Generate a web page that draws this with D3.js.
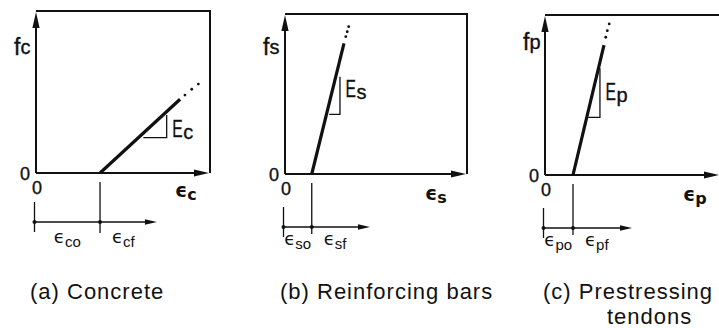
<!DOCTYPE html>
<html>
<head>
<meta charset="utf-8">
<script src="https://cdn.jsdelivr.net/npm/d3@7"></script>
<style>
  html, body { margin: 0; padding: 0; background: #fff; }
  svg { display: block; }
  text { font-family: "Liberation Sans", Arial, sans-serif; fill: #111; }
  .lab { stroke: #111; stroke-width: 0.35; }
  .eps { font-family: "DejaVu Sans", sans-serif; }
</style>
</head>
<body>
<svg id="chart" width="719" height="328"></svg>
<script>
// Idealised stress–strain relations (normalised units: strain and stress in [0, 1] of each frame)
const materials     = ["c", "s", "p"];
const titleLines    = [["(a) Concrete"], ["(b) Reinforcing bars"], ["(c) Prestressing", "tendons"]];
const offsetStrain  = [0.368, 0.147, 0.160];     // strain at zero stress (ε_o)
const endStrain     = [0.828, 0.324, 0.337];     // end of the solid branch
const endStress     = [0.455, 0.817, 0.812];
const dotStrain     = [[0.856, 0.895, 0.933], [0.334, 0.342, 0.350], [0.347, 0.356, 0.367]];
const dotStress     = [[0.481, 0.517, 0.549], [0.858, 0.889, 0.921], [0.861, 0.902, 0.944]];
const slopeStrain   = [[0.617, 0.751], [0.243, 0.302], [0.247, 0.314]];   // modulus triangle
const slopeStress   = [[0.218, 0.358], [0.373, 0.608], [0.360, 0.667]];
const dimEndStrain  = [0.695, 0.467, 0.497];     // extent of the strain dimension arrow

// Frame layout of each panel
const frames = [
  { left: 36,  right: 210, bottom: 173, top: 11, dimY: 222, fY: 55, axX: 175, axY: 197, eDy: 11, dimLabY: 243, titleX: 30 },
  { left: 285, right: 467, bottom: 174, top: 14, dimY: 227, fY: 55, axX: 425, axY: 200, eDy: 1,  dimLabY: 245, titleX: 280 },
  { left: 545, right: 720, bottom: 175, top: 15, dimY: 228, fY: 50, axX: 683, axY: 201, eDy: 7,  dimLabY: 246, titleX: 543 }
];

const svg = d3.select("#chart");
const ink = "#111";

function arrowHead(g, tip, dir, len, half) {
  // dir: unit vector pointing toward the tip
  const [tx, ty] = tip, [dx, dy] = dir;
  const bx = tx - dx * len, by = ty - dy * len;
  const px = -dy * half, py = dx * half;
  g.append("path")
    .attr("d", `M${tx},${ty}L${bx + px},${by + py}L${bx - px},${by - py}Z`)
    .attr("fill", ink);
}

materials.forEach((m, i) => {
  const f = frames[i];
  const x = d3.scaleLinear().domain([0, 1]).range([f.left, f.right]);
  const y = d3.scaleLinear().domain([0, 1]).range([f.bottom, f.top]);
  const g = svg.append("g");

  // frame: top and right edges
  g.append("path")
    .attr("d", `M${x(0)},${y(1)}H${x(1)}V${y(0)}`)
    .attr("fill", "none").attr("stroke", ink).attr("stroke-width", 2);

  // axes with arrows
  g.append("line").attr("x1", x(0)).attr("y1", y(0)).attr("x2", x(0)).attr("y2", y(1) + 6)
    .attr("stroke", ink).attr("stroke-width", 2);
  arrowHead(g, [x(0), y(1) + 1], [0, -1], 16, 3.6);
  g.append("line").attr("x1", x(0)).attr("y1", y(0)).attr("x2", x(1) - 6).attr("y2", y(0))
    .attr("stroke", ink).attr("stroke-width", 2);
  arrowHead(g, [x(1) - 1, y(0)], [1, 0], 15, 3.6);

  // stress–strain branch
  const line = d3.line().x(d => x(d[0])).y(d => y(d[1]));
  g.append("path")
    .attr("d", line([[offsetStrain[i], 0], [endStrain[i], endStress[i]]]))
    .attr("fill", "none").attr("stroke", ink).attr("stroke-width", 3.2);
  g.selectAll(null).data(d3.zip(dotStrain[i], dotStress[i])).join("circle")
    .attr("cx", d => x(d[0])).attr("cy", d => y(d[1])).attr("r", 1.4).attr("fill", ink);

  // modulus triangle and label
  const [s0, s1] = slopeStrain[i], [q0, q1] = slopeStress[i];
  g.append("path")
    .attr("d", `M${x(s0)},${y(q0)}H${x(s1)}V${y(q1)}`)
    .attr("fill", "none").attr("stroke", ink).attr("stroke-width", 1.3);
  const ex = x(s1) + 5.5, ey = (y(q0) + y(q1)) / 2 + f.eDy;
  g.append("text").attr("class", "lab").attr("transform", `translate(${ex},${ey}) scale(0.68,1)`)
    .attr("font-size", 23).text("E");
  g.append("text").attr("class", "lab").attr("x", ex + 11).attr("y", ey + 2).attr("font-size", 20).text(m);

  // axis titles
  const fl = g.append("text").attr("class", "lab").attr("x", x(0) - 22).attr("y", f.fY).attr("font-size", 23);
  fl.append("tspan").text("f");
  fl.append("tspan").attr("font-size", 20).attr("dy", -1).text(m);

  const al = g.append("text").attr("class", "eps").attr("x", f.axX).attr("y", f.axY)
    .attr("font-size", 19).attr("font-weight", "bold");
  al.append("tspan").text("ϵ");
  al.append("tspan").attr("font-size", 16).attr("dy", 3).text(m);

  // zero labels
  g.append("text").attr("class", "lab").attr("x", x(0) - 6).attr("y", y(0) + 6.5).attr("text-anchor", "end")
    .attr("font-size", 18).text("0");
  g.append("text").attr("class", "lab").attr("x", x(0) + 1).attr("y", y(0) + 21).attr("text-anchor", "middle")
    .attr("font-size", 18).text("0");

  // strain dimension below the axis
  const xo = x(offsetStrain[i]);
  g.append("line").attr("x1", xo).attr("x2", xo).attr("y1", y(0) + 9).attr("y2", y(0) + 60)
    .attr("stroke", ink).attr("stroke-width", 1.3);
  g.append("line").attr("x1", x(0) - 1.5).attr("x2", x(0) - 1.5).attr("y1", f.dimY - 20).attr("y2", f.dimY + 10)
    .attr("stroke", ink).attr("stroke-width", 1.3);
  g.append("line").attr("x1", x(0) - 1.5).attr("x2", x(dimEndStrain[i]) - 6).attr("y1", f.dimY).attr("y2", f.dimY)
    .attr("stroke", ink).attr("stroke-width", 1.3);
  arrowHead(g, [x(dimEndStrain[i]), f.dimY], [1, 0], 12, 2.8);
  g.selectAll(null).data([x(0) - 1.5, xo]).join("circle")
    .attr("cx", d => d).attr("cy", f.dimY).attr("r", 2).attr("fill", ink);

  const lo = g.append("text").attr("class", "eps").attr("x", (x(0) - 1.5 + xo) / 2).attr("y", f.dimLabY)
    .attr("text-anchor", "middle").attr("font-size", 18);
  lo.append("tspan").text("ϵ");
  lo.append("tspan").attr("font-family", "Liberation Sans, Arial, sans-serif").attr("font-size", 15).attr("dy", 4).text(m + "o");
  const lf = g.append("text").attr("class", "eps").attr("x", xo + 12).attr("y", f.dimLabY)
    .attr("font-size", 18);
  lf.append("tspan").text("ϵ");
  lf.append("tspan").attr("font-family", "Liberation Sans, Arial, sans-serif").attr("font-size", 15).attr("dy", 4).text(m + "f");

  // panel caption
  const tl = titleLines[i];
  g.append("text").attr("x", f.titleX).attr("y", 299).attr("font-size", 22)
    .attr("letter-spacing", 1).text(tl[0]);
  if (tl.length > 1) {
    g.append("text").attr("x", f.titleX + 64).attr("y", 324).attr("font-size", 22)
      .attr("letter-spacing", 1).text(tl[1]);
  }
});
</script>
</body>
</html>
